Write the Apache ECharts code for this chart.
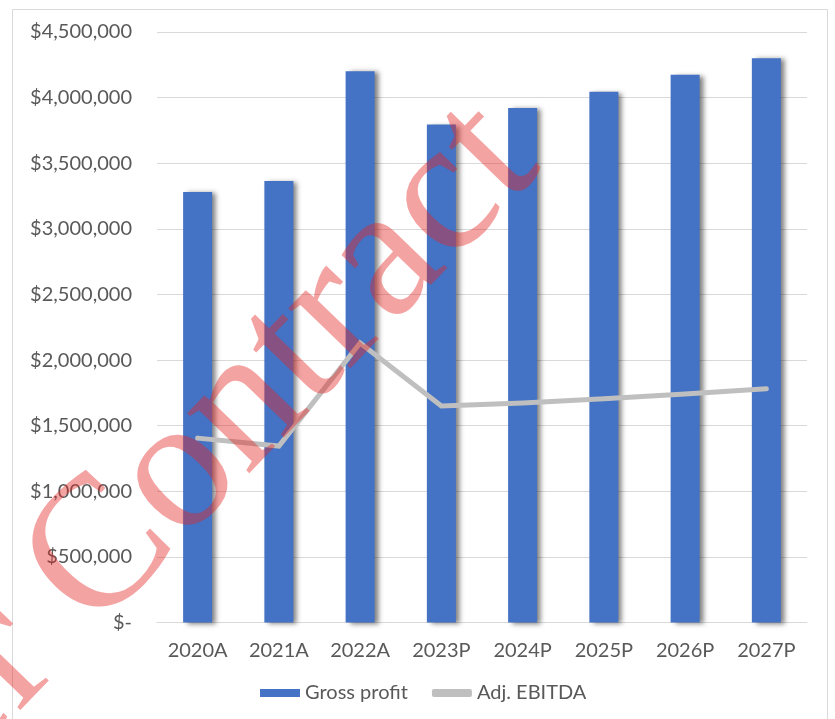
<!DOCTYPE html>
<html>
<head>
<meta charset="utf-8">
<script src="https://cdn.jsdelivr.net/npm/echarts@6/dist/echarts.min.js"></script>
<style>
html,body{margin:0;padding:0;background:#fff;}
#chart{width:835px;height:719px;}
</style>
</head>
<body>
<div id="chart"></div>
<script>
var categories = ['2020A','2021A','2022A','2023P','2024P','2025P','2026P','2027P'];
var grossProfit = [3280000, 3365000, 4200000, 3795000, 3920000, 4045000, 4175000, 4300000];
var adjEbitda = [1405000, 1345000, 2130000, 1650000, 1672000, 1705000, 1742000, 1782000];
var yTicks = [0, 500000, 1000000, 1500000, 2000000, 2500000, 3000000, 3500000, 4000000, 4500000];
var seriesNames = ['Gross profit', 'Adj. EBITDA'];
var watermarkText = 'Under Contract';

var chart = echarts.init(document.getElementById('chart'), null, {renderer: 'canvas'});

function fmtMoney(v) {
  if (v === 0) return '$-';
  return '$' + String(v).replace(/\B(?=(\d{3})+(?!\d))/g, ',');
}

var option = {
  animation: false,
  backgroundColor: '#ffffff',
  textStyle: {fontFamily: 'Lato'},
  grid: {left: 157, right: 28, top: 32, bottom: 96.5},
  legend: {
    left: 255,
    top: 678,
    itemWidth: 40,
    itemHeight: 8,
    itemGap: 24,
    textStyle: {fontFamily: 'Lato', fontSize: 20, color: '#595959'},
    data: [
      {name: seriesNames[0], icon: 'rect'},
      {name: seriesNames[1], icon: 'roundRect', itemStyle: {color: '#BFBFBF'}}
    ]
  },
  xAxis: {
    type: 'category',
    data: categories,
    axisLine: {show: true, lineStyle: {color: '#D9D9D9', width: 1}},
    axisTick: {show: false},
    axisLabel: {fontFamily: 'Lato', fontSize: 20, color: '#595959', margin: 18}
  },
  yAxis: {
    type: 'value',
    min: 0,
    max: yTicks[yTicks.length - 1],
    interval: yTicks[1] - yTicks[0],
    axisLine: {show: false},
    axisTick: {show: false},
    splitLine: {lineStyle: {color: '#D9D9D9', width: 1}},
    axisLabel: {fontFamily: 'Lato', fontSize: 20, color: '#595959', margin: 25, formatter: fmtMoney}
  },
  series: [
    {
      name: seriesNames[0],
      type: 'bar',
      data: grossProfit,
      barWidth: 29,
      itemStyle: {
        color: '#4472C4',
        shadowColor: 'rgba(0,0,0,0.5)',
        shadowBlur: 5,
        shadowOffsetX: 4,
        shadowOffsetY: 1
      }
    },
    {
      name: seriesNames[1],
      type: 'line',
      data: adjEbitda,
      showSymbol: false,
      symbol: 'none',
      lineStyle: {color: '#BFBFBF', width: 5, cap: 'round', join: 'miter'},
      itemStyle: {color: '#BFBFBF'},
      z: 3
    }
  ],
  graphic: [
    {
      type: 'rect',
      silent: true,
      z: -1,
      shape: {x: 12.5, y: 9.5, width: 815, height: 730},
      style: {fill: 'none', stroke: '#D9D9D9', lineWidth: 1}
    },
    {
      type: 'text',
      silent: true,
      z: 100,
      x: 508,
      y: 134,
      rotation: 46 * Math.PI / 180,
      style: {
        text: watermarkText,
        font: '188px "Liberation Serif"',
        fill: 'rgba(228,35,35,0.42)',
        align: 'right',
        verticalAlign: 'middle'
      }
    }
  ]
};
chart.setOption(option);
</script>
</body>
</html>
